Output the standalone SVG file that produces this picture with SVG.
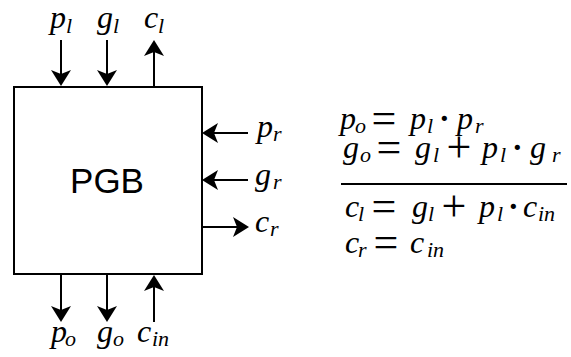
<svg xmlns="http://www.w3.org/2000/svg" width="571" height="357" viewBox="0 0 571 357">
<style>
.m{font-family:'Liberation Serif','Times New Roman',serif;font-style:italic;font-size:32px;fill:#000}
.s{font-size:22px}
.op{font-family:'Liberation Serif','Times New Roman',serif;font-style:normal;font-size:44px;fill:#000}
.w{stroke:#000;stroke-width:2;fill:none}
</style>
<defs>
<marker id="ah" viewBox="0 0 16 20" refX="14" refY="10" markerWidth="16" markerHeight="20" markerUnits="userSpaceOnUse" orient="auto">
<path d="M0,0 L16,10 L0,20 L4,10 Z" fill="#000"/>
</marker>
</defs>
<g id="pgb">
<rect x="14" y="87" width="188" height="187" fill="#fff" stroke="#000" stroke-width="2"/>
<text x="107" y="193" text-anchor="middle" font-family="Liberation Sans, Arial, sans-serif" font-size="35">PGB</text>
</g>
<g id="connectors">
<line class="w" x1="61" y1="40" x2="61" y2="84" marker-end="url(#ah)"/>
<line class="w" x1="107" y1="40" x2="107" y2="84" marker-end="url(#ah)"/>
<line class="w" x1="154" y1="86" x2="154" y2="42" marker-end="url(#ah)"/>
<line class="w" x1="61" y1="275" x2="61" y2="320" marker-end="url(#ah)"/>
<line class="w" x1="107" y1="275" x2="107" y2="320" marker-end="url(#ah)"/>
<line class="w" x1="154" y1="322" x2="154" y2="277" marker-end="url(#ah)"/>
<line class="w" x1="248" y1="133" x2="204" y2="133" marker-end="url(#ah)"/>
<line class="w" x1="248" y1="180" x2="204" y2="180" marker-end="url(#ah)"/>
<line class="w" x1="202" y1="227" x2="247" y2="227" marker-end="url(#ah)"/>
</g>
<g id="labels">
<text class="m" x="50" y="28">p<tspan class="s" x="66" y="33">l</tspan></text>
<text class="m" x="97" y="28">g<tspan class="s" x="113" y="33">l</tspan></text>
<text class="m" x="144" y="28">c<tspan class="s" x="158" y="33">l</tspan></text>
<text class="m" x="51" y="342">p<tspan class="s" x="65" y="346">o</tspan></text>
<text class="m" x="97" y="342">g<tspan class="s" x="113" y="346">o</tspan></text>
<text class="m" x="137" y="342">c<tspan class="s" x="152" y="346">in</tspan></text>
<text class="m" x="257" y="137">p<tspan class="s" x="273" y="141">r</tspan></text>
<text class="m" x="255" y="185">g<tspan class="s" x="273" y="189">r</tspan></text>
<text class="m" x="255" y="232">c<tspan class="s" x="270" y="236">r</tspan></text>
</g>
<g id="equations">
<text class="m" x="340" y="129">p<tspan class="s" x="355" y="133">o</tspan><tspan class="op" x="371.5" y="133">=</tspan><tspan x="410" y="129">p</tspan><tspan class="s" x="427" y="133">l</tspan><tspan class="op" x="437" y="133">·</tspan><tspan x="457" y="129">p</tspan><tspan class="s" x="475" y="133">r</tspan></text>
<text class="m" x="343" y="158">g<tspan class="s" x="360" y="162">o</tspan><tspan class="op" x="376.5" y="162">=</tspan><tspan x="415" y="158">g</tspan><tspan class="s" x="433" y="162">l</tspan><tspan class="op" x="446.5" y="162">+</tspan><tspan x="482" y="158">p</tspan><tspan class="s" x="500" y="162">l</tspan><tspan class="op" x="510" y="162">·</tspan><tspan x="530" y="158">g</tspan><tspan class="s" x="552" y="162">r</tspan></text>
<line x1="341" y1="184" x2="567" y2="184" stroke="#000" stroke-width="2"/>
<text class="m" x="345" y="217">c<tspan class="s" x="358" y="221">l</tspan><tspan class="op" x="371.5" y="221">=</tspan><tspan x="412" y="217">g</tspan><tspan class="s" x="428" y="221">l</tspan><tspan class="op" x="441.5" y="221">+</tspan><tspan x="479" y="217">p</tspan><tspan class="s" x="497" y="221">l</tspan><tspan class="op" x="506" y="221">·</tspan><tspan x="523" y="217">c</tspan><tspan class="s" x="538" y="221">in</tspan></text>
<text class="m" x="345" y="253">c<tspan class="s" x="358" y="257">r</tspan><tspan class="op" x="373.5" y="257">=</tspan><tspan x="410" y="253">c</tspan><tspan class="s" x="427" y="257">in</tspan></text>
</g>
</svg>
